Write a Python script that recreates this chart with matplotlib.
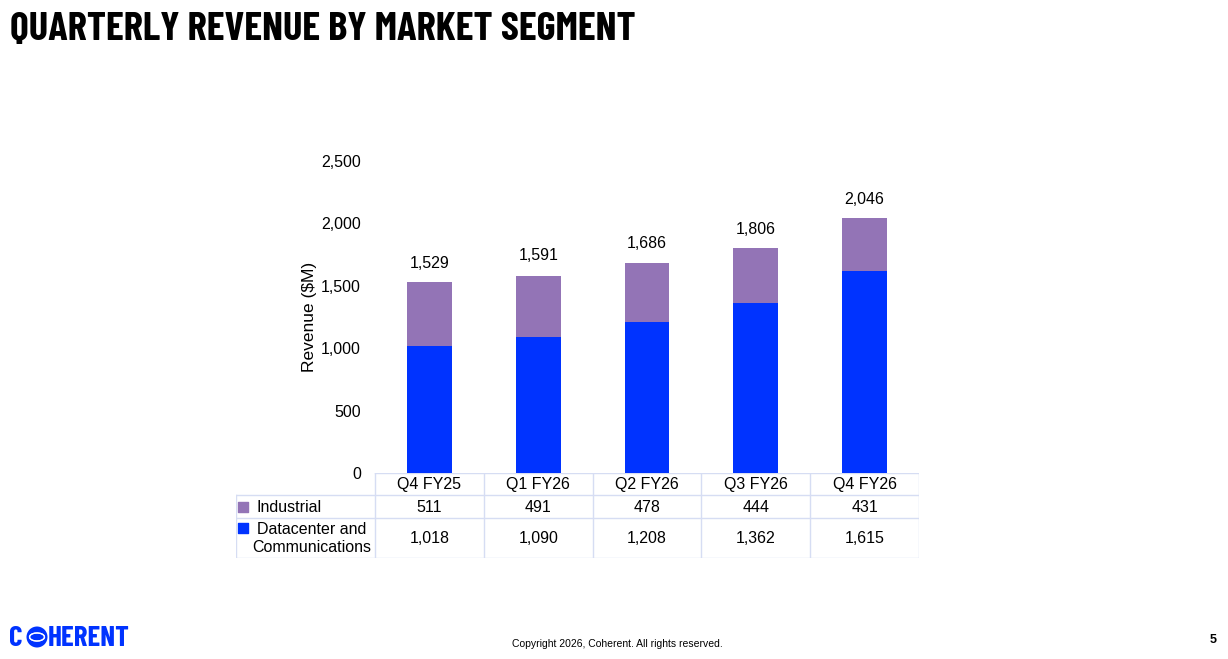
import matplotlib.pyplot as plt
from matplotlib.patches import Ellipse
import numpy as np

# data
quarters = ["Q4 FY25", "Q1 FY26", "Q2 FY26", "Q3 FY26", "Q4 FY26"]
datacenter = [1018, 1090, 1208, 1362, 1615]
industrial = [511, 491, 478, 444, 431]
totals = [1529, 1591, 1686, 1806, 2046]
yticks = [0, 500, 1000, 1500, 2000, 2500]

BLUE = "#0033ff"
PURPLE = "#9374b6"
GRID = "#d6ddf3"
W, H = 1228, 659
COND = ["Barlow Condensed", "Roboto Condensed", "IBM Plex Sans Condensed", "DejaVu Sans"]

plt.rcParams['font.family'] = ['Liberation Sans', 'DejaVu Sans']

fig = plt.figure(figsize=(W / 100, H / 100), dpi=100)

def box(l, t, r, b):
    return [l / W, 1 - b / H, (r - l) / W, (b - t) / H]

# main chart
ax = fig.add_axes(box(375, 161, 919, 473))
x = np.arange(len(quarters))
ax.bar(x, datacenter, width=0.41, color=BLUE)
ax.bar(x, industrial, width=0.41, bottom=datacenter, color=PURPLE)
for xi, t in zip(x, totals):
    ax.annotate(f"{t:,}", (xi, t), xytext=(0, 8), textcoords="offset points",
                ha="center", va="bottom", fontsize=11.5)
ax.set_xlim(-0.5, len(quarters) - 0.5)
ax.set_ylim(0, 2500)
ax.set_yticks(yticks)
ax.set_yticklabels([f"{v:,}" for v in yticks], fontsize=11.5)
ax.set_xticks([])
ax.tick_params(axis="y", length=0, pad=10)
for s in ax.spines.values():
    s.set_visible(False)
ax.set_ylabel("Revenue ($M)", fontsize=12.5, labelpad=3)

# data table under the bars
label_w = (375 - 236) / ((919 - 375) / len(quarters))
tab = fig.add_axes(box(236, 473, 919, 558))
tab.set_xlim(-0.5 - label_w, len(quarters) - 0.5)
tab.set_ylim(85, 0)
tab.axis("off")
rows = [0, 22, 45, 85]
left = -0.5 - label_w
right = len(quarters) - 0.5
lw = 1.0
tab.plot([-0.5, right], [rows[0], rows[0]], color=GRID, lw=lw)
for r in rows[1:]:
    tab.plot([left, right], [r, r], color=GRID, lw=lw)
tab.plot([left, left], [rows[1], rows[3]], color=GRID, lw=lw)
for i in range(len(quarters) + 1):
    tab.plot([i - 0.5, i - 0.5], [rows[0], rows[3]], color=GRID, lw=lw)

for i, q in enumerate(quarters):
    tab.text(i, 11.5, q, ha="center", va="center", fontsize=11.5)
    tab.text(i, 34, f"{industrial[i]:,}", ha="center", va="center", fontsize=11.5)
    tab.text(i, 65.5, f"{datacenter[i]:,}", ha="center", va="center", fontsize=11.5)

tab.scatter([left + 0.065], [34], marker="s", s=42, color=PURPLE)
tab.scatter([left + 0.065], [55], marker="s", s=42, color=BLUE)
tab.text(left + 0.19, 34, "Industrial", ha="left", va="center", fontsize=11.5)
tab.text(-0.5 - 0.035, 65.5, "Datacenter and\nCommunications", ha="right", va="center",
         fontsize=11.5, multialignment="center", linespacing=1.25)

# title and footer
fig.text(10 / W, 1 - 29 / H, "QUARTERLY REVENUE BY MARKET SEGMENT", ha="left", va="center",
         fontsize=29.3, fontweight="bold", family=COND)
fig.text(617 / W, 1 - 644 / H, "Copyright 2026, Coherent. All rights reserved.", ha="center",
         va="center", fontsize=7.5)
fig.text(1213 / W, 1 - 640 / H, "5", ha="center", va="center", fontsize=9, fontweight="bold")

# logo
fig.text(9 / W, 1 - 639 / H, "C", ha="left", va="center", fontsize=21, fontweight="bold",
         color=BLUE, family=COND)
fig.text(48 / W, 1 - 639 / H, "HERENT", ha="left", va="center", fontsize=21, fontweight="bold",
         color=BLUE, family=COND)
cx, cy = 37 / W, 1 - 637 / H
fig.patches.append(Ellipse((cx, cy), 21 / W, 21 / H, transform=fig.transFigure,
                           facecolor=BLUE, edgecolor="none"))
for ang in (30, 100):
    fig.patches.append(Ellipse((cx, cy), 15 / W, 8 / H, angle=ang, transform=fig.transFigure,
                               facecolor="none", edgecolor="white", lw=0.9))

fig.savefig("out.png", dpi=100)
